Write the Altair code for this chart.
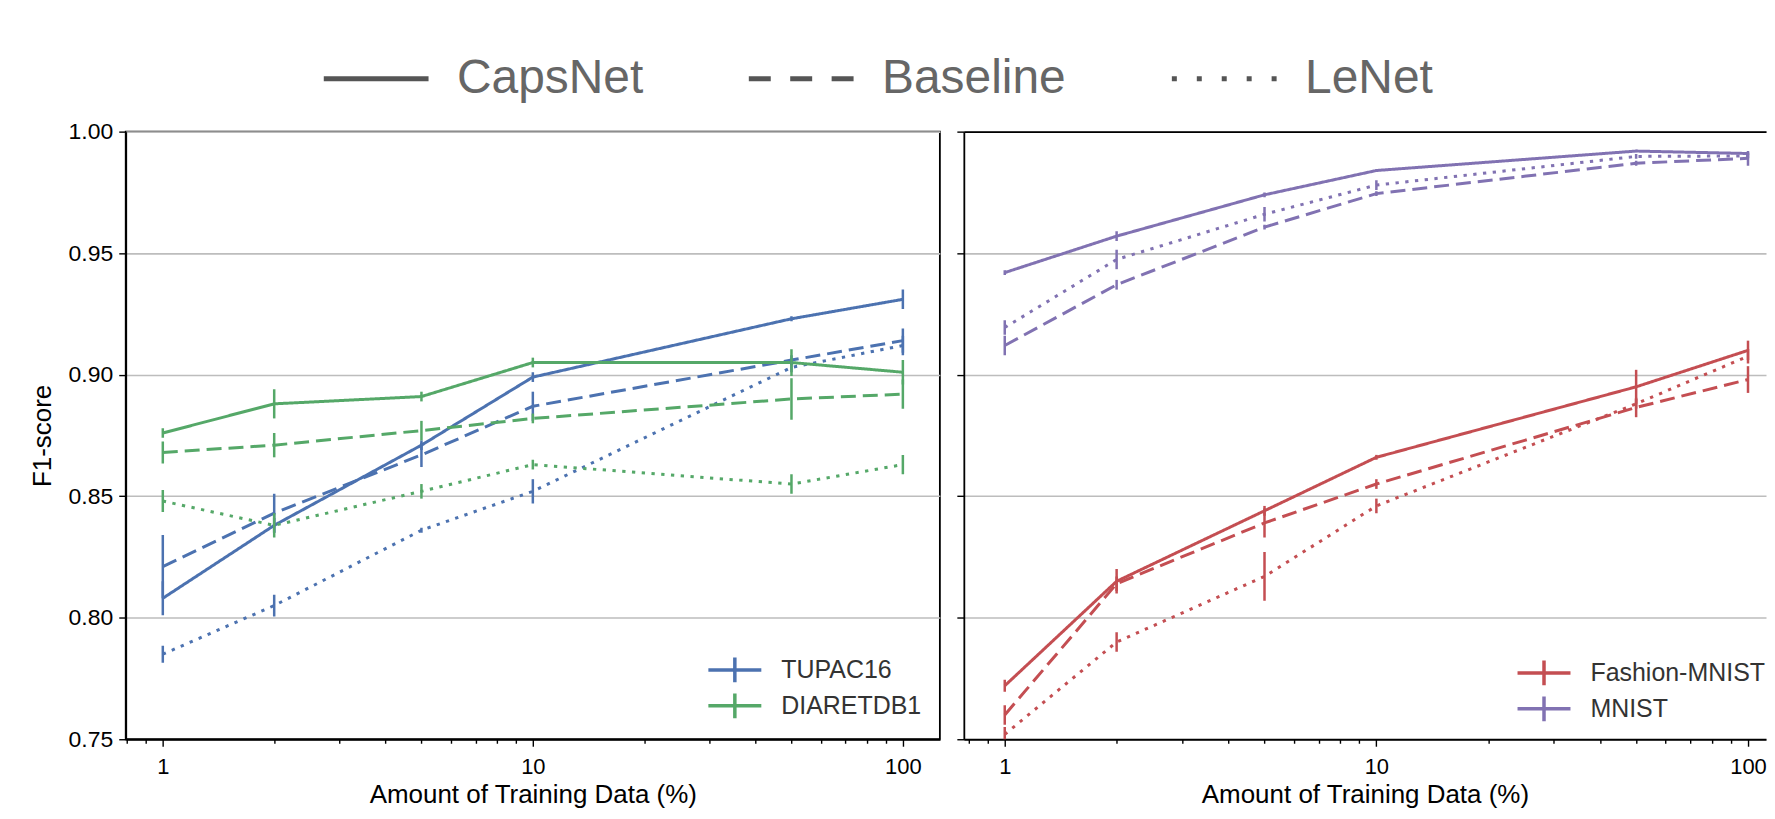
import altair as alt
import pandas as pd

# ---------------- data ----------------
x_pct = [1, 2, 5, 10, 50, 100]
models = ["CapsNet", "Baseline", "LeNet"]

left_datasets = ["TUPAC16", "DIARETDB1"]
left_colors = ["#4c72b0", "#55a868"]
right_datasets = ["Fashion-MNIST", "MNIST"]
right_colors = ["#c44e52", "#8172b2"]

tupac_capsnet = [0.808, 0.838, 0.871, 0.899, 0.923, 0.931]
tupac_capsnet_err = [0.007, 0.003, 0.002, 0.002, 0.001, 0.004]
tupac_baseline = [0.821, 0.843, 0.867, 0.887, 0.906, 0.914]
tupac_baseline_err = [0.013, 0.008, 0.005, 0.006, 0.002, 0.005]
tupac_lenet = [0.785, 0.805, 0.836, 0.852, 0.903, 0.912]
tupac_lenet_err = [0.0035, 0.0045, 0.001, 0.005, 0.002, 0.004]

diaret_capsnet = [0.876, 0.888, 0.891, 0.905, 0.905, 0.901]
diaret_capsnet_err = [0.002, 0.006, 0.002, 0.002, 0.0055, 0.005]
diaret_baseline = [0.868, 0.871, 0.877, 0.882, 0.890, 0.892]
diaret_baseline_err = [0.0045, 0.005, 0.004, 0.002, 0.0085, 0.006]
diaret_lenet = [0.848, 0.838, 0.852, 0.863, 0.855, 0.863]
diaret_lenet_err = [0.0045, 0.005, 0.003, 0.002, 0.004, 0.004]

fashion_capsnet = [0.772, 0.815, 0.844, 0.866, 0.895, 0.910]
fashion_capsnet_err = [0.0025, 0.005, 0.002, 0.001, 0.007, 0.004]
fashion_baseline = [0.760, 0.814, 0.839, 0.855, 0.8865, 0.898]
fashion_baseline_err = [0.004, 0.003, 0.006, 0.002, 0.004, 0.0055]
fashion_lenet = [0.752, 0.790, 0.817, 0.846, 0.888, 0.9076]
fashion_lenet_err = [0.003, 0.004, 0.010, 0.003, 0.002, 0.003]

mnist_capsnet = [0.942, 0.957, 0.974, 0.984, 0.992, 0.991]
mnist_capsnet_err = [0.001, 0.002, 0.001, 0.0005, 0.0005, 0.0005]
mnist_baseline = [0.912, 0.937, 0.9607, 0.9745, 0.987, 0.989]
mnist_baseline_err = [0.004, 0.002, 0.001, 0.001, 0.001, 0.003]
mnist_lenet = [0.9194, 0.9474, 0.966, 0.978, 0.9898, 0.990]
mnist_lenet_err = [0.003, 0.004, 0.003, 0.002, 0.001, 0.001]

y_ticks = [0.75, 0.80, 0.85, 0.90, 0.95, 1.00]
x_ticks = [0.8, 0.9, 1, 2, 3, 4, 5, 6, 7, 8, 9, 10, 20, 30, 40, 50, 60, 70, 80, 90, 100]


def rows(dataset, series):
    out = []
    for model, (vals, errs) in zip(models, series):
        for p, v, e in zip(x_pct, vals, errs):
            out.append({"pct": p, "f1": v, "lo": v - e, "hi": v + e,
                        "dataset": dataset, "model": model})
    return out


left_df = pd.DataFrame(
    rows("TUPAC16", [(tupac_capsnet, tupac_capsnet_err),
                     (tupac_baseline, tupac_baseline_err),
                     (tupac_lenet, tupac_lenet_err)])
    + rows("DIARETDB1", [(diaret_capsnet, diaret_capsnet_err),
                         (diaret_baseline, diaret_baseline_err),
                         (diaret_lenet, diaret_lenet_err)]))
right_df = pd.DataFrame(
    rows("Fashion-MNIST", [(fashion_capsnet, fashion_capsnet_err),
                           (fashion_baseline, fashion_baseline_err),
                           (fashion_lenet, fashion_lenet_err)])
    + rows("MNIST", [(mnist_capsnet, mnist_capsnet_err),
                     (mnist_baseline, mnist_baseline_err),
                     (mnist_lenet, mnist_lenet_err)]))

# ---------------- styling ----------------
FONT = "Liberation Sans"
dash_range = [[1, 0], [15, 7], [3.3, 6.5]]
legend_shapes = [
    "M-3,0L3,0",
    "M-3,0L-1.743,0M-0.629,0L0.629,0M1.743,0L3,0",
    "M-3,0L-2.714,0M-1.571,0L-1.286,0M-0.143,0L0.143,0M1.286,0L1.571,0M2.714,0L3,0",
]
errbar_symbol = "M-1.83,0L1.83,0M0,-0.86L0,0.86"

major_test = "indexof([1,10,100], datum.value) >= 0"


def x_axis():
    return alt.Axis(
        values=x_ticks, format="~g",
        labelExpr=f"{major_test} ? datum.label : ''",
        grid=False, domain=True, domainColor="black", domainWidth=1.8,
        ticks=True, tickColor="black", tickWidth=1.4,
        tickSize={"condition": {"test": major_test, "value": 7}, "value": 4},
        labelFont=FONT, labelFontSize=22, labelColor="black", labelPadding=10,
        title="Amount of Training Data (%)", titleFont=FONT, titleFontSize=26,
        titleFontWeight="normal", titleColor="black", titlePadding=4,
    )


def y_axis(show_labels):
    kw = dict(
        values=y_ticks, format=".2f", grid=True, gridColor="#bdbdbd", gridWidth=1.6,
        domain=True, domainColor="black", domainWidth=1.8,
        ticks=True, tickColor="black", tickWidth=1.4, tickSize=7,
    )
    if show_labels:
        kw.update(labelFont=FONT, labelFontSize=23, labelColor="black", labelPadding=6,
                  title="F1-score", titleFont=FONT, titleFontSize=26,
                  titleFontWeight="normal", titleColor="black", titlePadding=13)
    else:
        kw.update(labels=False, title=None)
    return alt.Axis(**kw)


shape_legend = alt.Legend(
    title=None, orient="none", direction="horizontal", legendX=227, legendY=-77,
    labelFont=FONT, labelFontSize=48, labelColor="#666666", labelOffset=57,
    labelLimit=600,
    symbolSize=1225, symbolStrokeWidth=5, symbolStrokeColor="#555555",
    symbolFillColor="transparent", symbolOpacity=1, columnPadding=95,
)


def panel(df, domain_x, datasets, colors, legend_x, legend_y, right_side):
    xs = alt.Scale(type="log", domain=domain_x, nice=False)
    ys = alt.Scale(domain=[0.75, 1.0], nice=False, zero=False)
    color = alt.Color(
        "dataset:N",
        scale=alt.Scale(domain=datasets, range=colors),
        legend=alt.Legend(
            title=None, orient="none", legendX=legend_x, legendY=legend_y,
            symbolType=errbar_symbol, symbolSize=841, symbolStrokeWidth=3.5,
            symbolFillColor="transparent", labelOffset=30, labelLimit=400,
            labelFont=FONT, labelFontSize=25, labelColor="#333333", rowPadding=-4,
        ),
    )
    yax = y_axis(not right_side)
    lines = alt.Chart(df).mark_line(strokeWidth=3, clip=True).encode(
        x=alt.X("pct:Q", scale=xs, axis=x_axis()),
        y=alt.Y("f1:Q", scale=ys, axis=yax),
        color=color,
        strokeDash=alt.StrokeDash("model:N",
                                  scale=alt.Scale(domain=models, range=dash_range),
                                  legend=None),
    )
    if right_side:
        top_axis = alt.Axis(orient="top", labels=False, ticks=False, grid=False,
                            domain=True, domainColor="black", domainWidth=1.8,
                            title=None)
    else:
        top_axis = x_axis()
    bars = alt.Chart(df).mark_rule(strokeWidth=2.5, clip=True).encode(
        x=alt.X("pct:Q", scale=xs, axis=top_axis),
        y=alt.Y("lo:Q", scale=ys, axis=yax),
        y2="hi:Q",
        color=color,
    )
    if right_side:
        layer = alt.layer(lines, bars).resolve_axis(x="independent").properties(
            width=804, height=609,
            view=alt.ViewBackground(stroke="transparent"))
    else:
        pts = alt.Chart(df).mark_point(opacity=0, filled=False, color="#555555").encode(
            x=alt.X("pct:Q", scale=xs, axis=x_axis()),
            y=alt.Y("f1:Q", scale=ys, axis=yax),
            shape=alt.Shape("model:N",
                            scale=alt.Scale(domain=models, range=legend_shapes),
                            legend=shape_legend),
        )
        layer = alt.layer(lines, bars, pts).properties(
            width=816, height=609,
            view=alt.ViewBackground(stroke="black", strokeWidth=1.8))
    return layer


left = panel(left_df, [0.794, 125.9], left_datasets, left_colors, 594, 523, False)
right = panel(right_df, [0.776, 111.8], right_datasets, right_colors, 565, 526, True)

chart = (
    alt.hconcat(left, right, spacing=24, bounds="flush")
    .resolve_scale(color="independent", x="independent", shape="independent")
    .properties(padding={"left": 20, "top": 45, "right": 0, "bottom": 0})
    .configure(font=FONT)
)

chart.save("out.html", embed_options={"renderer": "svg", "actions": False})
